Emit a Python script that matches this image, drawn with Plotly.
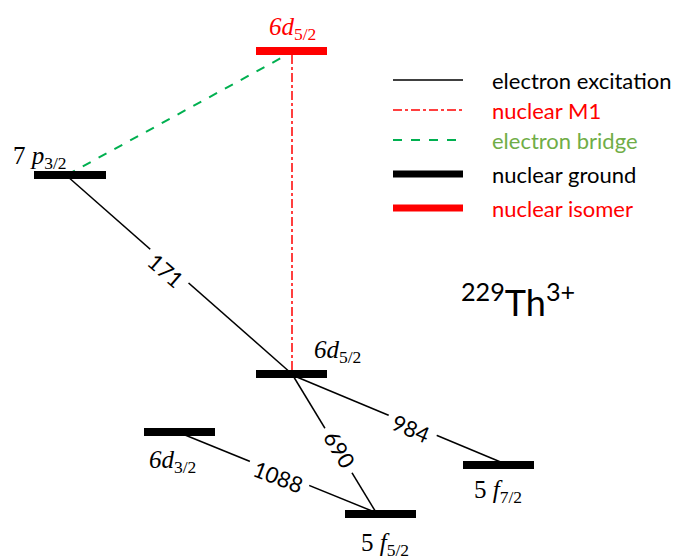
import plotly.graph_objects as go

# Energy levels (diagram coordinates: x extents, vertical position)
level_names = ["6d5/2 isomer", "7p3/2", "6d5/2", "6d3/2", "5f5/2", "5f7/2"]
level_x0 = [256, 34, 256, 144, 345, 463]
level_x1 = [327, 106, 327, 215, 416, 534]
level_y = [51, 175, 374, 432, 514, 465]
level_colors = ["#FF0000", "black", "black", "black", "black", "black"]
level_labels = ["<i>6d</i><sub>5/2</sub>", "7 <i>p</i><sub>3/2</sub>", "<i>6d</i><sub>5/2</sub>",
                "<i>6d</i><sub>3/2</sub>", "5 <i>f</i><sub>5/2</sub>", "5 <i>f</i><sub>7/2</sub>"]
label_x = [292, 40, 337, 172, 385, 498]
label_y = [28, 157, 351, 461, 544, 491]

# Transitions: (from x, from y) -> (to x, to y), label
trans_x0 = [67, 292, 292, 185]
trans_y0 = [176, 374, 375, 435]
trans_x1 = [292, 377, 503, 377]
trans_y1 = [374, 514, 463, 513]
trans_labels = ["171", "690", "984", "1088"]
trans_label_x = [166, 340, 411, 278]
trans_label_y = [270, 449, 428, 476]
trans_angle = [41, 59, 23, 21]

# Bridge and M1
bridge_x = [67, 292]
bridge_y = [175, 52]
m1_x = [292, 292]
m1_y = [55, 370]

# Legend
legend_labels = ["electron excitation", "nuclear M1", "electron bridge", "nuclear ground", "nuclear isomer"]
legend_colors = ["black", "#FF0000", "#00B050", "black", "#FF0000"]
legend_text_colors = ["black", "#FF0000", "#70AD47", "black", "#FF0000"]
legend_dash = ["solid", "dashdot", "dash", "solid", "solid"]
legend_width = [1.5, 1.5, 2, 7, 7]
legend_y = [80, 110, 140, 174, 208]
legend_x0, legend_x1, legend_tx = 393, 463, 490

fig = go.Figure()

for i in range(len(trans_labels)):
    fig.add_trace(go.Scatter(x=[trans_x0[i], trans_x1[i]], y=[trans_y0[i], trans_y1[i]], mode="lines",
                             line=dict(color="black", width=1.5), hoverinfo="skip"))

fig.add_trace(go.Scatter(x=bridge_x, y=bridge_y, mode="lines",
                         line=dict(color="#00B050", width=2, dash="dash"), hoverinfo="skip"))
fig.add_trace(go.Scatter(x=m1_x, y=m1_y, mode="lines",
                         line=dict(color="#FF0000", width=1.5, dash="dashdot"), hoverinfo="skip"))

for i in range(len(level_names)):
    fig.add_trace(go.Scatter(x=[level_x0[i], level_x1[i]], y=[level_y[i], level_y[i]], mode="lines",
                             line=dict(color=level_colors[i], width=8), hoverinfo="skip"))
    fig.add_annotation(x=label_x[i], y=label_y[i], text=level_labels[i], showarrow=False,
                       font=dict(family="Liberation Serif", size=25, color=level_colors[i]))

for i in range(len(trans_labels)):
    fig.add_annotation(x=trans_label_x[i], y=trans_label_y[i], text=trans_labels[i], showarrow=False,
                       textangle=trans_angle[i], bgcolor="white", borderpad=6,
                       font=dict(family="Lato", size=22, color="black"))

for i in range(len(legend_labels)):
    fig.add_trace(go.Scatter(x=[legend_x0, legend_x1], y=[legend_y[i], legend_y[i]], mode="lines",
                             line=dict(color=legend_colors[i], width=legend_width[i], dash=legend_dash[i]),
                             hoverinfo="skip"))
    fig.add_annotation(x=legend_tx, y=legend_y[i], text=legend_labels[i], showarrow=False,
                       xanchor="left", font=dict(family="Lato", size=22, color=legend_text_colors[i]))

fig.add_annotation(x=518, y=300, text="<sup>229</sup>Th<sup>3+</sup>", showarrow=False,
                   font=dict(family="Lato", size=36, color="black"))

# page has an 8px body margin: map data coords to page pixels
fig.update_layout(width=677, height=552, margin=dict(l=0, r=0, t=0, b=0),
                  paper_bgcolor="white", plot_bgcolor="white", showlegend=False)
fig.update_xaxes(range=[8, 685], visible=False, fixedrange=True)
fig.update_yaxes(range=[560, 8], visible=False, fixedrange=True)

fig.write_html("out.html")
